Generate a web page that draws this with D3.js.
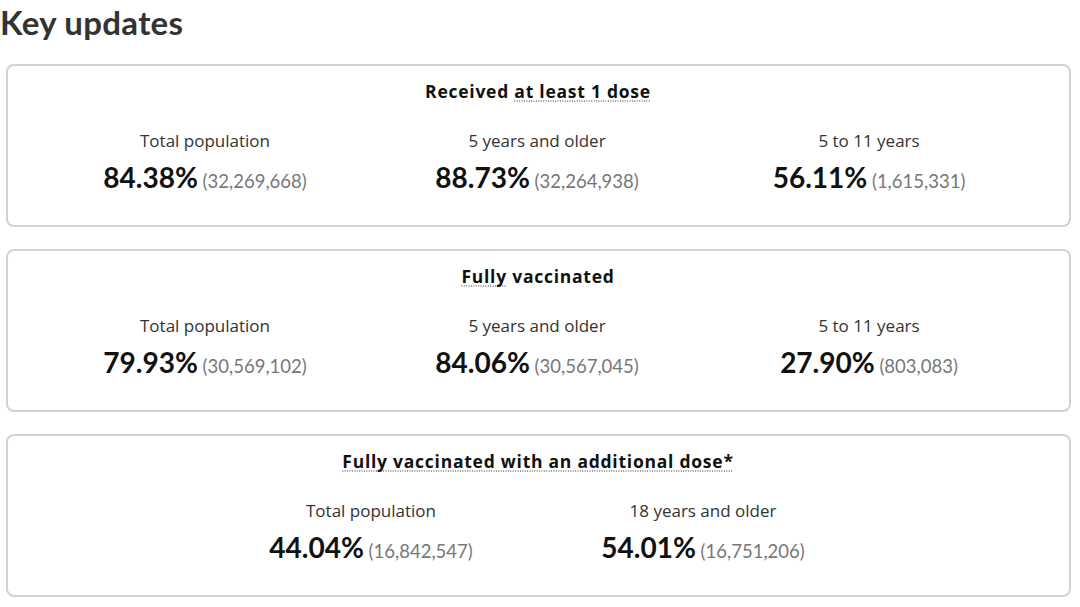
<!DOCTYPE html>
<html lang="en">
<head>
<meta charset="utf-8">
<title>Key updates</title>
<style>
  html, body { margin: 0; padding: 0; background: #fff; }
  svg { display: block; }
</style>
<script src="https://cdn.jsdelivr.net/npm/d3@7"></script>
</head>
<body>
<svg id="chart" width="1080" height="607"></svg>
<script>
// card titles, split so the dotted-underlined part can be drawn
var titleHead = ["Received ", "", ""];
var titleUnderlined = ["at least 1 dose", "Fully", "Fully vaccinated with an additional dose*"];
var titleTail = ["", " vaccinated", ""];

var groupLabels = [
  ["Total population", "5 years and older", "5 to 11 years"],
  ["Total population", "5 years and older", "5 to 11 years"],
  ["Total population", "18 years and older"]
];
var percents = [
  [84.38, 88.73, 56.11],
  [79.93, 84.06, 27.90],
  [44.04, 54.01]
];
var counts = [
  [32269668, 32264938, 1615331],
  [30569102, 30567045, 803083],
  [16842547, 16751206]
];

var svg = d3.select("#chart");
var fmtPct = d3.format(".2f"), fmtCount = d3.format(",");

svg.append("text")
  .attr("x", 0).attr("y", 35)
  .attr("font-family", "Lato, sans-serif")
  .attr("font-weight", 700)
  .attr("font-size", 33)
  .attr("letter-spacing", 0.3)
  .attr("fill", "#333")
  .text("Key updates");

// one band per card
var y = d3.scaleBand().domain(d3.range(percents.length)).range([64, 597]).paddingInner(0.119);
var cardLeft = 7, cardRight = 1070, mid = 538, colWidth = 332;

var cards = svg.selectAll("g.card").data(d3.range(percents.length)).join("g")
  .attr("class", "card")
  .attr("transform", function(i) { return "translate(0," + y(i) + ")"; });

cards.append("rect")
  .attr("x", cardLeft).attr("y", 1)
  .attr("width", cardRight - cardLeft).attr("height", y.bandwidth() - 2)
  .attr("rx", 7)
  .attr("fill", "#fff")
  .attr("stroke", "#d2d2d2")
  .attr("stroke-width", 2);

cards.each(function(i) {
  var g = d3.select(this);
  var t = g.append("text")
    .attr("x", mid).attr("y", 34)
    .attr("text-anchor", "middle")
    .attr("font-family", "'Open Sans', sans-serif")
    .attr("font-weight", 700)
    .attr("font-size", 17.5)
    .attr("letter-spacing", 0.75)
    .attr("fill", "#111");
  if (titleHead[i]) t.append("tspan").text(titleHead[i]);
  var u = t.append("tspan").text(titleUnderlined[i]);
  if (titleTail[i]) t.append("tspan").text(titleTail[i]);
  var x0 = u.node().getStartPositionOfChar(0).x;
  var len = u.node().getComputedTextLength();
  g.append("line")
    .attr("x1", x0).attr("x2", x0 + len - 0.75)
    .attr("y1", 37).attr("y2", 37)
    .attr("stroke", "#333")
    .attr("stroke-width", 1.2)
    .attr("stroke-dasharray", "1,1.4");

  var n = percents[i].length;
  var x = d3.scaleBand().domain(d3.range(n))
    .range([mid - n * colWidth / 2, mid + n * colWidth / 2]);

  var cols = g.selectAll("g.col").data(d3.range(n)).join("g")
    .attr("class", "col")
    .attr("transform", function(j) { return "translate(" + (x(j) + x.bandwidth() / 2 - 1) + ",0)"; });

  cols.append("text")
    .attr("y", 83)
    .attr("text-anchor", "middle")
    .attr("font-family", "'Open Sans', sans-serif")
    .attr("font-size", 17)
    .attr("fill", "#333")
    .text(function(j) { return groupLabels[i][j]; });

  var v = cols.append("text")
    .attr("y", 124)
    .attr("text-anchor", "middle")
    .attr("font-family", "Lato, sans-serif");
  v.append("tspan")
    .attr("font-weight", 700)
    .attr("font-size", 28)
    .attr("fill", "#111")
    .text(function(j) { return fmtPct(percents[i][j]) + "%"; });
  v.append("tspan")
    .attr("font-size", 18.5)
    .attr("fill", "#777")
    .text(function(j) { return " (" + fmtCount(counts[i][j]) + ")"; });
});
</script>
</body>
</html>
